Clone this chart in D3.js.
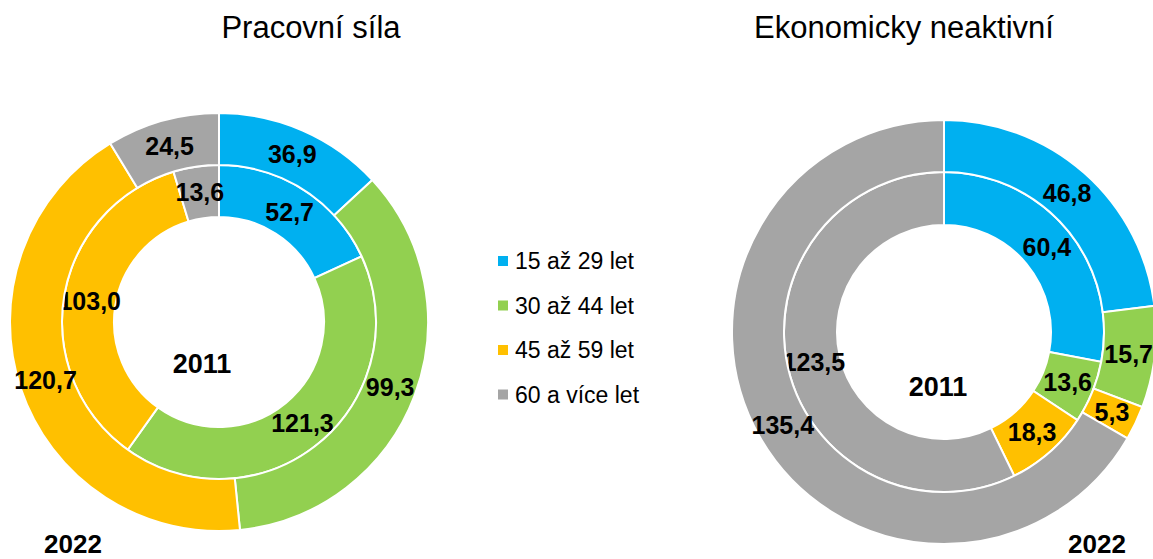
<!DOCTYPE html>
<html>
<head>
<meta charset="utf-8">
<script src="https://cdn.jsdelivr.net/npm/d3@7"></script>
<style>
  body { margin: 0; background: #fff; }
  svg { display: block; font-family: Arial, "Liberation Sans", sans-serif; }
</style>
</head>
<body>
<div id="root"></div>
<script>
// categories and values (thousands)
var categories = ["15 až 29 let", "30 až 44 let", "45 až 59 let", "60 a více let"];
var colors = ["#00B0F0", "#92D050", "#FFC000", "#A5A5A5"];

var workforce2011 = [52.7, 121.3, 103.0, 13.6];
var workforce2022 = [36.9, 99.3, 120.7, 24.5];
var inactive2011 = [60.4, 13.6, 18.3, 123.5];
var inactive2022 = [46.8, 15.7, 5.3, 135.4];

var width = 1153, height = 559;

var svg = d3.select("#root").append("svg")
  .attr("width", width)
  .attr("height", height);

var fmt = function (v) { return d3.format(".1f")(v).replace(".", ","); };

var pie = d3.pie().sort(null).value(function (d) { return d; });

function donut(cfg) {
  var g = svg.append("g").attr("transform", "translate(" + cfg.cx + "," + cfg.cy + ")");

  var rings = [
    { data: cfg.inner, r0: cfg.hole, r1: cfg.mid },
    { data: cfg.outer, r0: cfg.mid, r1: cfg.outerR }
  ];

  rings.forEach(function (ring) {
    var arc = d3.arc().innerRadius(ring.r0).outerRadius(ring.r1);
    var arcs = pie(ring.data);
    g.append("g").selectAll("path")
      .data(arcs)
      .enter()
      .append("path")
      .attr("d", arc)
      .attr("fill", function (d, i) { return colors[i]; })
      .attr("stroke", "#fff")
      .attr("stroke-width", 2);

    g.append("g").selectAll("text")
      .data(arcs)
      .enter()
      .append("text")
      .attr("transform", function (d) { return "translate(" + arc.centroid(d) + ")"; })
      .attr("text-anchor", "middle")
      .attr("dy", "0.36em")
      .attr("font-size", "25px")
      .attr("font-weight", "bold")
      .attr("fill", "#000")
      .text(function (d) { return fmt(d.data); });
  });

  // title
  svg.append("text")
    .attr("x", cfg.titleX)
    .attr("y", 38)
    .attr("text-anchor", "middle")
    .attr("font-size", "31px")
    .attr("fill", "#000")
    .text(cfg.title);

  // year labels
  svg.append("text")
    .attr("x", cfg.y2011[0])
    .attr("y", cfg.y2011[1])
    .attr("text-anchor", "middle")
    .attr("font-size", "27px")
    .attr("font-weight", "bold")
    .text("2011");

  svg.append("text")
    .attr("x", cfg.y2022[0])
    .attr("y", cfg.y2022[1])
    .attr("text-anchor", "middle")
    .attr("font-size", "26px")
    .attr("font-weight", "bold")
    .text("2022");
}

donut({
  title: "Pracovní síla", titleX: 311,
  cx: 219, cy: 322, hole: 105, mid: 157, outerR: 209,
  inner: workforce2011, outer: workforce2022,
  y2011: [202, 373], y2022: [73, 553]
});

donut({
  title: "Ekonomicky neaktivní", titleX: 904,
  cx: 944, cy: 332, hole: 107, mid: 160, outerR: 212,
  inner: inactive2011, outer: inactive2022,
  y2011: [938, 396], y2022: [1097, 553]
});

// legend
var legend = svg.append("g").attr("transform", "translate(498,261)");
var item = legend.selectAll("g")
  .data(categories)
  .enter()
  .append("g")
  .attr("transform", function (d, i) { return "translate(0," + (i * 44.5) + ")"; });

item.append("rect")
  .attr("x", 0)
  .attr("y", -5)
  .attr("width", 10)
  .attr("height", 10)
  .attr("fill", function (d, i) { return colors[i]; });

item.append("text")
  .attr("x", 17)
  .attr("y", 0)
  .attr("dy", "0.35em")
  .attr("font-size", "23px")
  .attr("fill", "#000")
  .text(function (d) { return d; });
</script>
</body>
</html>
